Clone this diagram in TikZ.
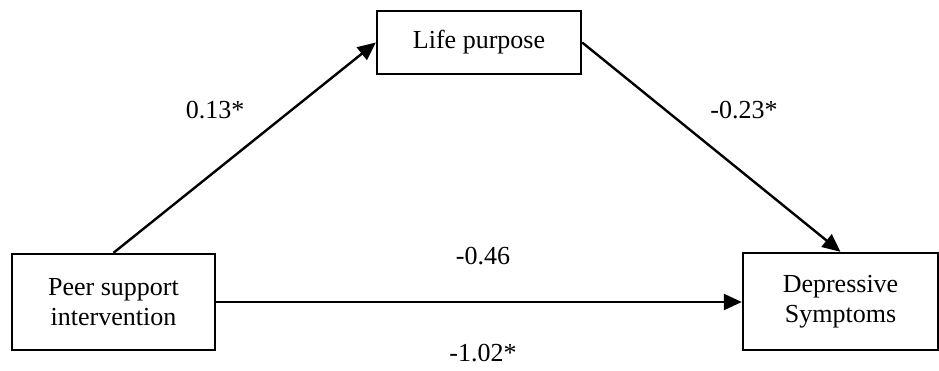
\documentclass[tikz,border=0pt]{standalone}
\usepackage{fontspec}
\setmainfont{Liberation Serif}
\usetikzlibrary{arrows.meta}
\begin{document}
\begin{tikzpicture}[x=1pt,y=-1pt,
  box/.style={draw,line width=2.4pt,align=center,inner sep=0pt,font=\fontsize{26}{30}\selectfont},
  lbl/.style={anchor=base,inner sep=0pt,font=\fontsize{26}{30}\selectfont},
  arr/.style={line width=2.4pt,-{Triangle[length=18pt,width=16pt]}}]
\useasboundingbox (0,0) rectangle (939,370);
\node[box,minimum width=204pt,minimum height=63pt] (lp) at (479,42.5) {Life purpose};
\node[box,minimum width=203pt,minimum height=96pt] (ps) at (113.5,302) {Peer support\\intervention};
\node[box,minimum width=195pt,minimum height=97pt] (ds) at (840.5,301.5) {Depressive\\Symptoms};
\draw[arr] (ps.north) -- (lp.west);
\draw[arr] (lp.east) -- (ds.north);
\draw[arr] (ps.east) -- (ps.east -| ds.west);
\node[lbl] (a) at (215,118) {0.13*};
\node[lbl] (b) at (744,118) {-0.23*};
\node[lbl] (c) at (483,264) {-0.46};
\node[lbl] (d) at (483,361) {-1.02*};
\end{tikzpicture}
\end{document}
